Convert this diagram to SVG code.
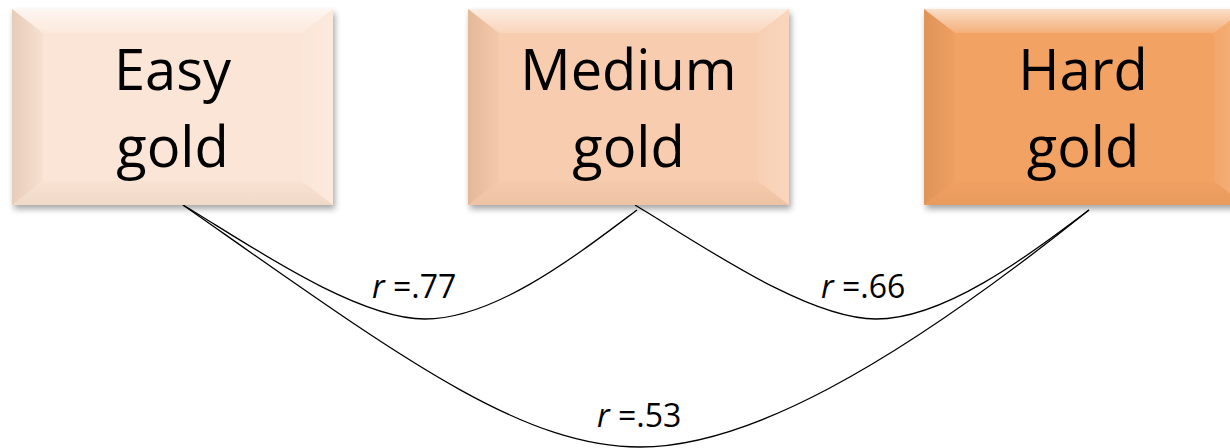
<svg xmlns="http://www.w3.org/2000/svg" xmlns:xlink="http://www.w3.org/1999/xlink" width="1230" height="448" viewBox="0 0 1230 448">
  <style>
    .lbl { font-family: "Open Sans", "Liberation Sans", sans-serif; font-size: 56px; fill: #000; text-anchor: middle; }
    .r { font-family: "Open Sans", "Liberation Sans", sans-serif; font-size: 32px; fill: #000; }
    .it { font-style: italic; }
    .conn { fill: none; stroke: #000; stroke-width: 1.3; }
  </style>
  <defs>
    <filter id="sh" x="-10%" y="-10%" width="125%" height="130%">
      <feDropShadow dx="2" dy="4" stdDeviation="3" flood-color="#000" flood-opacity="0.35"/>
    </filter>
    <linearGradient id="gTop" x1="0" y1="0" x2="0" y2="1">
      <stop offset="0" stop-color="#fff" stop-opacity="0.65"/>
      <stop offset="1" stop-color="#fff" stop-opacity="0.15"/>
    </linearGradient>
    <linearGradient id="gLeft" x1="0" y1="0" x2="1" y2="0">
      <stop offset="0" stop-color="#7a4a20" stop-opacity="0.16"/>
      <stop offset="1" stop-color="#7a4a20" stop-opacity="0.03"/>
    </linearGradient>
    <linearGradient id="gRight" x1="0" y1="0" x2="1" y2="0">
      <stop offset="0" stop-color="#fff" stop-opacity="0.05"/>
      <stop offset="1" stop-color="#fff" stop-opacity="0.18"/>
    </linearGradient>
    <linearGradient id="gBot" x1="0" y1="0" x2="0" y2="1">
      <stop offset="0" stop-color="#7a4a20" stop-opacity="0.02"/>
      <stop offset="1" stop-color="#7a4a20" stop-opacity="0.08"/>
    </linearGradient>
    <g id="bevel">
      <polygon points="0,0 321,0 290,24 31,24" fill="url(#gTop)"/>
      <polygon points="0,0 31,24 31,172 0,196" fill="url(#gLeft)"/>
      <polygon points="321,0 290,24 290,172 321,196" fill="url(#gRight)"/>
      <polygon points="0,196 31,172 290,172 321,196" fill="url(#gBot)"/>
    </g>
  </defs>

  <g id="connectors">
    <path class="conn" d="M183,205 C245,242 355,319 425,319 C495,319 577,255 637,210"/>
    <path class="conn" d="M635,205 C697,242 806,319 876,319 C945,319 1029,255 1089,210"/>
    <path class="conn" d="M183,205 C398,355.5 520,447 640,447 C745,447 889,370 1089,210"/>
  </g>

  <g id="node-easy">
    <rect x="12" y="9" width="321" height="196" fill="#FBE5D6" filter="url(#sh)"/>
    <use xlink:href="#bevel" href="#bevel" x="12" y="9"/>
    <text class="lbl" x="172.5" y="90">Easy</text>
    <text class="lbl" x="172.5" y="167">gold</text>
  </g>

  <g id="node-medium">
    <rect x="468" y="9" width="321" height="196" fill="#F8CDAF" filter="url(#sh)"/>
    <use xlink:href="#bevel" href="#bevel" x="468" y="9"/>
    <text class="lbl" x="628.5" y="90">Medium</text>
    <text class="lbl" x="628.5" y="167">gold</text>
  </g>

  <g id="node-hard">
    <rect x="924" y="9" width="321" height="196" fill="#F2A263" filter="url(#sh)"/>
    <use xlink:href="#bevel" href="#bevel" x="924" y="9"/>
    <text class="lbl" x="1083" y="90">Hard</text>
    <text class="lbl" x="1083" y="167">gold</text>
  </g>

  <g id="labels">
    <text class="r" x="372" y="298"><tspan class="it">r</tspan> =.77</text>
    <text class="r" x="821" y="298"><tspan class="it">r</tspan> =.66</text>
    <text class="r" x="597" y="427"><tspan class="it">r</tspan> =.53</text>
  </g>
</svg>
